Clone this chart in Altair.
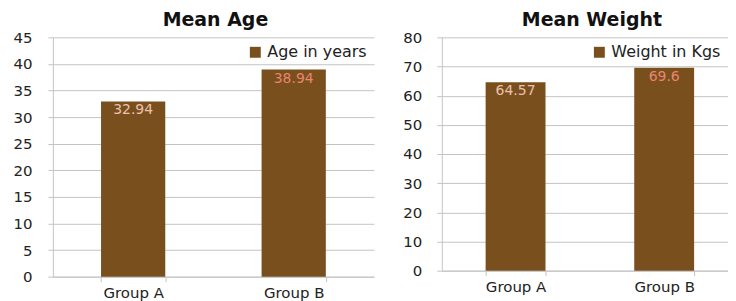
import altair as alt
import pandas as pd

groups = ["Group A", "Group B"]
age_values = [32.94, 38.94]
weight_values = [64.57, 69.6]
label_colors = ["#eac3ad", "#e8856f"]
age_ticks = [0, 5, 10, 15, 20, 25, 30, 35, 40, 45]
weight_ticks = [0, 10, 20, 30, 40, 50, 60, 70, 80]

BAR = "#7a4f1e"
GRID = "#c4c4c4"
FONT = "DejaVu Sans"


def panel(values, series, title, ymax, ticks, width, height, loffset, lpad,
          pin, pout, align, tdx):
    df = pd.DataFrame({"group": groups, "value": values, "series": series,
                       "lc": label_colors, "lab": [f"{v:g}" for v in values]})
    x = alt.X("group:N", title=None, sort=groups,
              scale=alt.Scale(paddingInner=pin, paddingOuter=pout, align=align),
              axis=alt.Axis(labelAngle=0, labelFontSize=15, labelFont=FONT,
                            labelColor="#222", labelPadding=4, domainColor=GRID,
                            tickColor=GRID, tickBand="extent", tickSize=5,
                            grid=False))
    y = alt.Y("value:Q", title=None,
              scale=alt.Scale(domain=[0, ymax], nice=False),
              axis=alt.Axis(values=ticks, labelFontSize=15, labelFont=FONT,
                            labelColor="#222", labelPadding=lpad, domainColor=GRID,
                            tickColor=GRID, tickSize=5, gridColor=GRID,
                            labelOverlap=False, labelFlush=False))
    bars = alt.Chart(df).mark_bar().encode(
        x=x, y=y,
        color=alt.Color("series:N", title=None,
                        scale=alt.Scale(range=[BAR]),
                        legend=alt.Legend(orient="top-right", offset=loffset,
                                          symbolType="square", symbolSize=120,
                                          labelFontSize=16, labelFont=FONT,
                                          labelColor="#222", fillColor="white",
                                          padding=2, symbolStrokeWidth=0)))
    text = alt.Chart(df).mark_text(baseline="top", dy=2, fontSize=14,
                                   font=FONT).encode(
        x=x, y=y,
        text="lab:N", color=alt.Color("lc:N", scale=None))
    return alt.layer(bars, text).properties(
        width=width, height=height,
        title=alt.Title(title, fontSize=19, font=FONT, fontWeight="bold",
                        color="#111", offset=0, dx=tdx))


left = panel(age_values, "Age in years", "Mean Age", 45, age_ticks, 322, 240, 5, 16,
             0.6, 0.3, 0.5, 2)
right = panel(weight_values, "Weight in Kgs", "Mean Weight", 80, weight_ticks,
              287, 234, 5, 15, 0.597, 0.2615, 0.564, 7)

chart = alt.hconcat(left, right, spacing=28).resolve_scale(color="independent").configure_view(
    stroke=None).properties(padding={"left": 4, "top": 3, "right": 0, "bottom": 0})

chart.save("out.html", embed_options={"renderer": "svg", "actions": False})
